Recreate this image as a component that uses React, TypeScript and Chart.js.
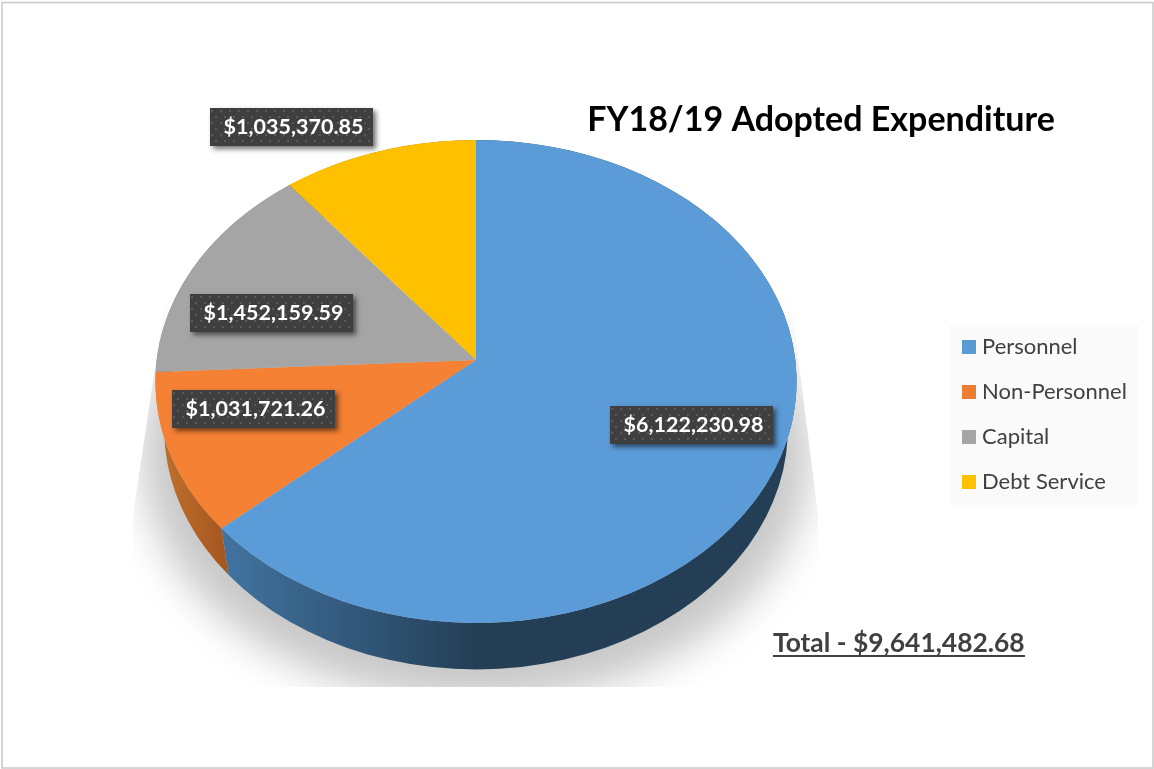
import React, { useEffect, useRef } from "react";
import { Chart, registerables } from "chart.js";

Chart.register(...registerables);

const categories = ["Personnel", "Non-Personnel", "Capital", "Debt Service"];
const expenditure = [6122230.98, 1031721.26, 1452159.59, 1035370.85];
const sliceColors = ["#5b9bd8", "#f48134", "#a5a5a5", "#ffc000"];
const legendColors = ["#5b9bd5", "#ed7d31", "#a5a5a5", "#ffc000"];
const wallShades = [
  ["#41729f", "#233e55"],
  ["#c0702c", "#a5561f"],
  ["#777777", "#666666"],
  ["#b08500", "#a07800"],
];
const chartTitle = "FY18/19 Adopted Expenditure";
const labelBoxes = [
  [610, 406],
  [172, 390],
  [190, 294],
  [210, 108],
];

const FONT = "Lato, Carlito, Calibri, sans-serif";
const money = (n: number) =>
  "$" + n.toLocaleString("en-US", { minimumFractionDigits: 2, maximumFractionDigits: 2 });

// projective view of the pie disc
const CX = 476;
const RX = 319.3;
const A = 207.5;
const APEX_Y = 360;
const C = -0.089;
const top = (a: number): [number, number] => {
  const u = Math.cos(a);
  const v = Math.sin(a);
  const d = 1 + C * v;
  return [CX + (RX * u) / d, (A * v + APEX_Y) / d];
};
const low = (a: number): [number, number] => {
  const [x, y] = top(a);
  return [CX + (x - CX) * 0.973, y + 46.5];
};

function dotPattern(ctx: CanvasRenderingContext2D) {
  const c = document.createElement("canvas");
  c.width = 9;
  c.height = 12;
  const g = c.getContext("2d")!;
  g.fillStyle = "#3f3f3f";
  g.fillRect(0, 0, 9, 12);
  g.fillStyle = "#5a5a5a";
  g.fillRect(1, 2, 2, 2);
  g.fillRect(5, 8, 2, 2);
  return ctx.createPattern(c, "repeat")!;
}

const pie3d = {
  id: "pie3d",
  afterLayout(chart: any) {
    const lg = chart.legend;
    const pad = lg.options.labels.padding;
    lg.left = 967 - pad;
    lg.right = 1138;
    lg.top = 336 - pad;
    lg.bottom = 520;
    const t = chart.titleBlock;
    t.left = 587;
    t.right = 1055;
    t.top = 120 - t.height / 2;
    t.bottom = t.top + t.height;
  },
  beforeDraw(chart: any) {
    const ctx = chart.ctx;
    ctx.save();
    ctx.fillStyle = "#ffffff";
    ctx.fillRect(0, 0, 1154, 769);
    ctx.strokeStyle = "#c8c8c8";
    ctx.lineWidth = 1.5;
    ctx.strokeRect(2, 2.5, 1151, 765.5);
    ctx.fillStyle = "#fafafa";
    ctx.fillRect(950, 325, 188, 180);
    ctx.restore();
  },
  beforeDatasetsDraw(chart: any) {
    const ctx: CanvasRenderingContext2D = chart.ctx;
    const arcs = chart.getDatasetMeta(0).data;
    const STEPS = 96;

    // cast shadow: only the blurred shadow of an off-canvas ellipse is painted
    ctx.save();
    ctx.beginPath();
    ctx.moveTo(165, 300);
    ctx.lineTo(133, 515);
    ctx.lineTo(133, 687);
    ctx.lineTo(818, 687);
    ctx.lineTo(818, 515);
    ctx.lineTo(791, 300);
    ctx.closePath();
    ctx.clip();
    ctx.shadowColor = "#c8c8c8";
    ctx.shadowBlur = 40;
    ctx.shadowOffsetX = 3000;
    ctx.fillStyle = "#000000";
    ctx.beginPath();
    ctx.ellipse(CX - 3000, 456, 334, 246, 0, 0, Math.PI * 2);
    ctx.fill();
    ctx.restore();

    // side walls
    arcs.forEach((arc: any, i: number) => {
      const { startAngle, endAngle } = arc;
      const n = Math.max(4, Math.ceil((STEPS * (endAngle - startAngle)) / (2 * Math.PI)));
      const g = ctx.createLinearGradient(i === 1 ? 160 : 228, 0, i === 1 ? 228 : 480, 0);
      g.addColorStop(0, wallShades[i][0]);
      g.addColorStop(1, wallShades[i][1]);
      ctx.fillStyle = g;
      ctx.beginPath();
      for (let k = 0; k <= n; k++) {
        const p = top(startAngle + ((endAngle - startAngle) * k) / n);
        k ? ctx.lineTo(p[0], p[1]) : ctx.moveTo(p[0], p[1]);
      }
      for (let k = n; k >= 0; k--) {
        const p = low(startAngle + ((endAngle - startAngle) * k) / n);
        ctx.lineTo(p[0], p[1]);
      }
      ctx.closePath();
      ctx.fill();
    });

    // top face
    arcs.forEach((arc: any) => {
      const { startAngle, endAngle } = arc;
      const n = Math.max(4, Math.ceil((STEPS * 2 * (endAngle - startAngle)) / (2 * Math.PI)));
      ctx.fillStyle = arc.options.backgroundColor;
      ctx.beginPath();
      ctx.moveTo(CX, APEX_Y);
      for (let k = 0; k <= n; k++) {
        const p = top(startAngle + ((endAngle - startAngle) * k) / n);
        ctx.lineTo(p[0], p[1]);
      }
      ctx.closePath();
      ctx.fill();
    });

    // value labels
    const pattern = dotPattern(ctx);
    expenditure.forEach((v, i) => {
      const [x, y] = labelBoxes[i];
      ctx.save();
      ctx.shadowColor = "rgba(0,0,0,0.55)";
      ctx.shadowBlur = 5;
      ctx.shadowOffsetX = 3;
      ctx.shadowOffsetY = 3;
      ctx.fillStyle = "#3f3f3f";
      ctx.fillRect(x, y, 163, 38);
      ctx.restore();
      ctx.save();
      ctx.translate(x, y);
      ctx.fillStyle = pattern;
      ctx.fillRect(0, 0, 163, 38);
      ctx.restore();
      ctx.fillStyle = "#ffffff";
      ctx.font = `bold 21.5px ${FONT}`;
      ctx.textAlign = "center";
      ctx.textBaseline = "middle";
      ctx.fillText(money(v), x + 83.5, y + 19);
    });

    // total
    const total = expenditure.reduce((a, b) => a + b, 0);
    ctx.fillStyle = "#404040";
    ctx.font = `bold 26.4px ${FONT}`;
    ctx.textAlign = "left";
    ctx.textBaseline = "alphabetic";
    const txt = "Total - " + money(total);
    ctx.fillText(txt, 773, 652);
    ctx.fillRect(773, 655, 252, 2);

    return false;
  },
};

export default function App() {
  const ref = useRef<HTMLCanvasElement>(null);
  useEffect(() => {
    const chart = new Chart(ref.current!, {
      type: "pie",
      data: {
        labels: categories,
        datasets: [{ data: expenditure, backgroundColor: sliceColors }],
      },
      options: {
        responsive: false,
        animation: false,
        plugins: {
          title: {
            display: true,
            text: chartTitle,
            color: "#000000",
            padding: 0,
            font: { family: FONT, size: 34, weight: "bold" },
          },
          legend: {
            position: "right",
            align: "start",
            labels: {
              boxWidth: 4,
              boxHeight: 4,
              padding: 23,
              color: "#404040",
              font: { family: FONT, size: 22 },
              generateLabels: () =>
                categories.map((text, i) => ({
                  text,
                  fillStyle: legendColors[i],
                  strokeStyle: legendColors[i],
                  lineWidth: 10,
                  fontColor: "#404040",
                  index: i,
                })),
            },
          },
          tooltip: { enabled: false },
        },
      },
      plugins: [pie3d],
    } as any);
    return () => chart.destroy();
  }, []);
  return (
    <div style={{ position: "fixed", left: 0, top: 0, width: 1154, height: 769 }}>
      <canvas ref={ref} width={1154} height={769} style={{ display: "block" }} />
    </div>
  );
}
